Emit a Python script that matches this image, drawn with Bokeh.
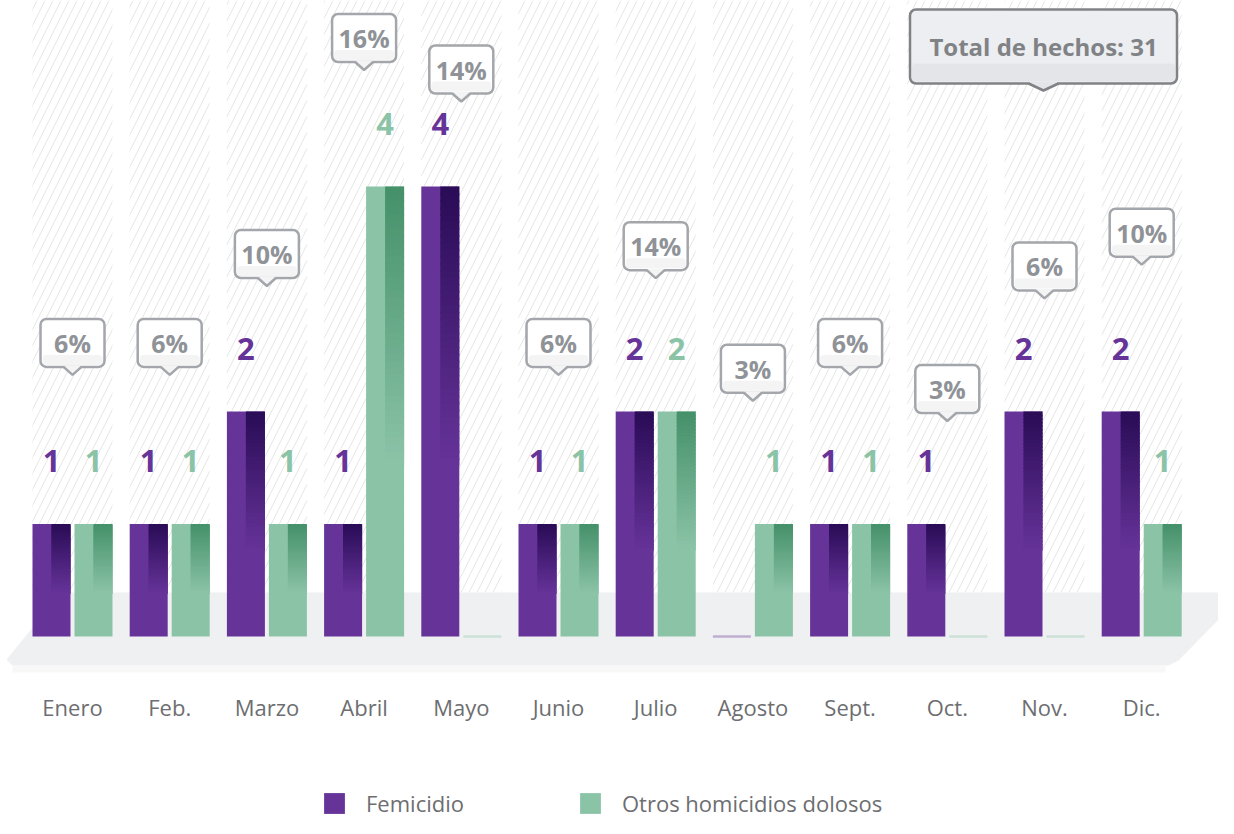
from bokeh.plotting import figure
from bokeh.models import Range1d, Legend, LegendItem
from bokeh.core.properties import value
from bokeh.embed import file_html
from bokeh.resources import INLINE

# ---------------- data ----------------
months = ["Enero", "Feb.", "Marzo", "Abril", "Mayo", "Junio",
          "Julio", "Agosto", "Sept.", "Oct.", "Nov.", "Dic."]
femicidio = [1, 1, 2, 1, 4, 1, 2, 0, 1, 1, 2, 2]
otros = [1, 1, 1, 4, 0, 1, 2, 1, 1, 0, 0, 1]
porcentaje = [6, 6, 10, 16, 14, 6, 14, 3, 6, 3, 6, 10]
total_hechos = 31
# height (in data units) at which each percentage call-out floats
callout_level = [2.61, 2.61, 3.40, 5.32, 5.04, 2.61, 3.47, 2.38, 2.61, 2.20, 3.29, 3.59]

# ---------------- styling ----------------
PURPLE, PURPLE_DARK = "#663399", "#2a0c57"
GREEN, GREEN_DARK = "#8bc3a7", "#45916a"
GREY_TXT = "#6d6e71"
PCT_TXT = "#8f9297"
FONT = "Open Sans"

PX_X = 97.2    # screen px per x unit
PX_Y = 112.5   # screen px per y unit
W, H = 1218, 818
x0 = -72 / PX_X
y1 = 636 / PX_Y
x_range = Range1d(x0, x0 + W / PX_X)
y_range = Range1d(y1 - H / PX_Y, y1)

p = figure(width=W, height=H, x_range=x_range, y_range=y_range,
           x_axis_type=None, y_axis_type=None, toolbar_location=None,
           output_backend="svg", min_border=0)
p.outline_line_color = None
p.grid.visible = False
p.background_fill_color = "white"

n = len(months)
idx = list(range(n))
floor_top = 44 / PX_Y
bar_w = 38 / PX_X
off = 21 / PX_X
group_w = 80 / PX_X

# hatched background columns
p.vbar(x=idx, bottom=floor_top, top=y_range.end + 1, width=group_w,
       fill_color="white", line_color=None,
       hatch_pattern="/", hatch_color="#e6e6e6", hatch_scale=16, hatch_weight=1)

# floor
fx = [(px - 72) / PX_X for px in (61, 1240, 1240, 1178, 1168, 12, 6)]
fy = [(636 - py) / PX_Y for py in (592, 592, 597, 660, 665, 665, 659)]
p.patch(fx, fy, fill_color="#eff0f2", line_color=None)
p.quad(left=(12 - 72) / PX_X, right=(1165 - 72) / PX_X,
       top=(636 - 665) / PX_Y, bottom=(636 - 672) / PX_Y,
       fill_color="#f8f8f9", line_color=None)


def interp(c1, c2, t):
    a = [int(c1[i:i + 2], 16) for i in (1, 3, 5)]
    b = [int(c2[i:i + 2], 16) for i in (1, 3, 5)]
    return "#%02x%02x%02x" % tuple(round(a[k] + (b[k] - a[k]) * t) for k in range(3))


def draw_series(vals, sign, base, dark):
    xs = [i + sign * off for i in idx]
    r = p.vbar(x=xs, top=vals, width=bar_w, fill_color=base, line_color=None)
    # gradient on right half
    L, R, T, B, C = [], [], [], [], []
    N = 40
    for x, v in zip(xs, vals):
        if v <= 0:
            continue
        span = 0.62 * v
        for k in range(N):
            L.append(x)
            R.append(x + bar_w / 2)
            T.append(v - k * span / N)
            B.append(max(v - (k + 1) * span / N - 1.5 / PX_Y, v - span))
            C.append(interp(dark, base, k / (N - 1)))
    p.quad(left=L, right=R, top=T, bottom=B, fill_color=C, line_color=None)
    # zero values: thin line on the floor
    zx = [x for x, v in zip(xs, vals) if v == 0]
    if zx:
        p.vbar(x=zx, bottom=-1.2 / PX_Y, top=1.2 / PX_Y, width=bar_w,
               fill_color=base, fill_alpha=0.35, line_color=None)
    # value labels
    lx = [x for x, v in zip(xs, vals) if v > 0]
    ly = [v + 0.56 for v in vals if v > 0]
    lt = [str(v) for v in vals if v > 0]
    p.text(x=lx, y=ly, text=lt, text_align="center", text_baseline="middle",
           text_font=value(FONT), text_font_style="bold",
           text_font_size="31px", text_color=base)
    return r


r_fem = draw_series(femicidio, -1, PURPLE, PURPLE_DARK)
r_otr = draw_series(otros, 1, GREEN, GREEN_DARK)

# percentage call-outs
bw, bh = 64 / PX_X, 48 / PX_Y
tw, th = 9 / PX_X, 8 / PX_Y
p.quad(left=[i - bw / 2 for i in idx], right=[i + bw / 2 for i in idx],
       top=[c + bh / 2 for c in callout_level], bottom=[c - bh / 2 for c in callout_level],
       fill_color="white", line_color="#a3a6aa", line_width=2.5, border_radius=6)
p.quad(left=[i - bw / 2 + 2 / PX_X for i in idx], right=[i + bw / 2 - 2 / PX_X for i in idx],
       top=[c - bh / 2 + 12 / PX_Y for c in callout_level],
       bottom=[c - bh / 2 + 2 / PX_Y for c in callout_level],
       fill_color="#f4f4f5", line_color=None, border_radius=4)
txs = [[i - tw, i, i + tw] for i in idx]
tys = [[c - bh / 2 + 1.5 / PX_Y, c - bh / 2 - th, c - bh / 2 + 1.5 / PX_Y] for c in callout_level]
p.patches(txs, tys, fill_color="#f4f4f5", line_color=None)
p.multi_line(txs, [[c - bh / 2, c - bh / 2 - th, c - bh / 2] for c in callout_level],
             line_color="#a3a6aa", line_width=2.5)
p.text(x=idx, y=callout_level, text=[f"{v}%" for v in porcentaje],
       text_align="center", text_baseline="middle", text_font=value(FONT),
       text_font_style="bold", text_font_size="25px", text_color=PCT_TXT)

# total call-out
cx, cy = (1043 - 72) / PX_X, (636 - 46) / PX_Y
tbw, tbh = 267 / PX_X, 74 / PX_Y
p.quad(left=cx - tbw / 2, right=cx + tbw / 2, top=cy + tbh / 2, bottom=cy - tbh / 2,
       fill_color="#eceef1", line_color="#808285", line_width=2.5, border_radius=6)
p.quad(left=cx - tbw / 2 + 2 / PX_X, right=cx + tbw / 2 - 2 / PX_X,
       top=cy - tbh / 2 + 20 / PX_Y, bottom=cy - tbh / 2 + 2 / PX_Y,
       fill_color="#e4e5e8", line_color=None, border_radius=4)
ptx = [cx - 15 / PX_X, cx, cx + 15 / PX_X]
p.patch(ptx, [cy - tbh / 2 + 1.5 / PX_Y, cy - tbh / 2 - 7 / PX_Y, cy - tbh / 2 + 1.5 / PX_Y],
        fill_color="#e4e5e8", line_color=None)
p.line(ptx, [cy - tbh / 2, cy - tbh / 2 - 7 / PX_Y, cy - tbh / 2],
       line_color="#808285", line_width=2.5)
p.text(x=[cx], y=[cy], text=[f"Total de hechos: {total_hechos}"],
       text_align="center", text_baseline="middle", text_font=value(FONT),
       text_font_style="bold", text_font_size="24px", text_color="#808285")

# month labels
p.text(x=idx, y=[(636 - 706) / PX_Y] * n, text=months, text_align="center",
       text_baseline="middle", text_font=value(FONT), text_font_size="22px",
       text_color=GREY_TXT)

legend = Legend(items=[LegendItem(label="Femicidio", renderers=[r_fem]),
                       LegendItem(label="Otros homicidios dolosos", renderers=[r_otr])],
                orientation="horizontal", location=(321, 0),
                glyph_width=26, glyph_height=26, label_standoff=19, spacing=113,
                padding=0, margin=0, border_line_color=None,
                background_fill_alpha=0, label_text_font=FONT,
                label_text_font_size="22px", label_text_color=GREY_TXT)
p.add_layout(legend)

open("out.html", "w").write(file_html(p, INLINE))
